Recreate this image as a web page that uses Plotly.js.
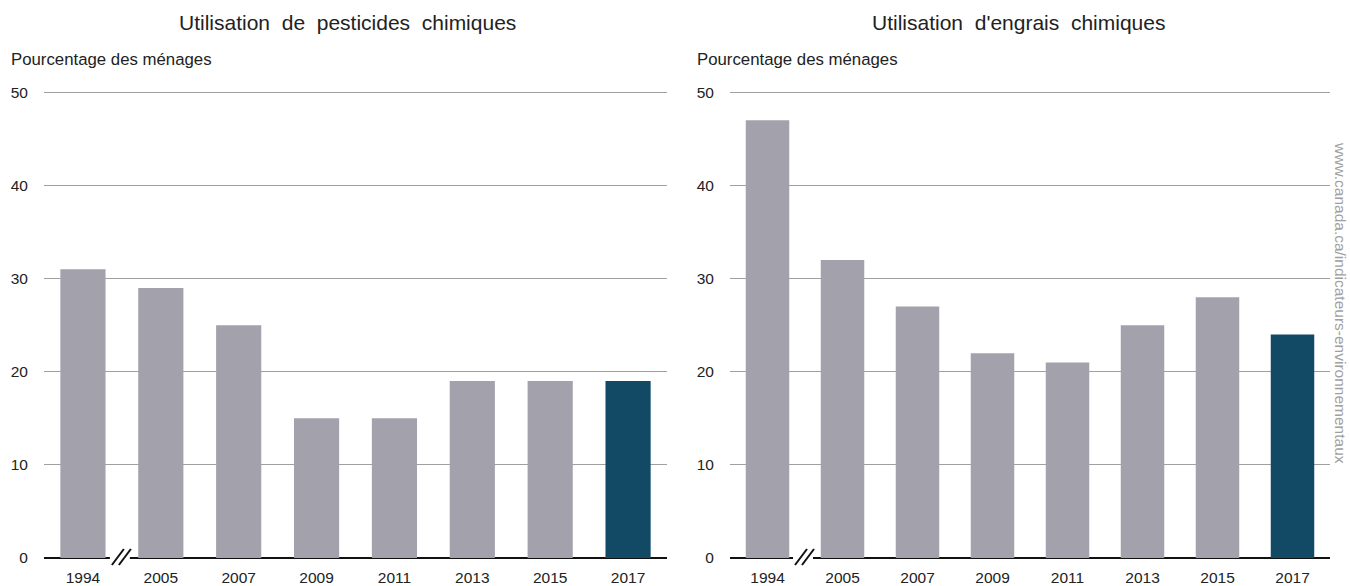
<!DOCTYPE html>
<html>
<head>
<meta charset="utf-8">
<script src="https://cdn.plot.ly/plotly-3.0.1.min.js"></script>
<style>html,body{margin:0;padding:0;background:#fff;}#chart{width:1350px;height:586px;}</style>
</head>
<body>
<div id="chart"></div>
<script>
const years = ["1994", "2005", "2007", "2009", "2011", "2013", "2015", "2017"];
const pesticides = [31, 29, 25, 15, 15, 19, 19, 19];
const engrais = [47, 32, 27, 22, 21, 25, 28, 24];
const leftTitle = "Utilisation de pesticides chimiques";
const rightTitle = "Utilisation d'engrais chimiques";
const yLabel = "Pourcentage des ménages";
const source = "www.canada.ca/indicateurs-environnementaux";

const grey = "#a3a1ab";
const teal = "#124a66";
const colors = years.map((y, i) => i === years.length - 1 ? teal : grey);

const W = 1350, H = 586;
const plotTop = 91, plotBottom = 558;
const Lpx = [44, 667];
const Rpx = [730, 1330];
const L = [Lpx[0] / W, Lpx[1] / W];
const R = [Rpx[0] / W, Rpx[1] / W];
const py = p => (plotBottom - p) / (plotBottom - plotTop);
const fontFam = "Liberation Sans, Arial, sans-serif";
const wide = s => s.split(" ").join("\u00a0 ");

const traces = [
  {type: "bar", x: years, y: pesticides, xaxis: "x", yaxis: "y", marker: {color: colors}, width: 0.58, hoverinfo: "x+y"},
  {type: "bar", x: years, y: engrais, xaxis: "x2", yaxis: "y2", marker: {color: colors}, width: 0.58, hoverinfo: "x+y"}
];

const xCommon = {type: "category", range: [-0.5, 7.5], showgrid: false, zeroline: false, showline: false,
  ticks: "outside", ticklen: 5, tickcolor: "rgba(0,0,0,0)", tickfont: {size: 15.5, color: "#222"}, fixedrange: true};
const yCommon = {range: [0, 50.15], tickvals: [0, 10, 20, 30, 40, 50], showgrid: true, gridcolor: "#a0a0a0", gridwidth: 1,
  zeroline: true, zerolinecolor: "#111", zerolinewidth: 2, showline: false,
  ticks: "outside", ticklen: 12, tickcolor: "rgba(0,0,0,0)", tickfont: {size: 15.5, color: "#222"}, fixedrange: true};

function breakShapes(xd, px) {
  const width = px[1] - px[0];
  const c = width / 8; // boundary between first and second category, in px from domain start
  const f = d => (c + d) / width;
  return [
    {type: "rect", xref: xd, yref: "paper", x0: f(-12), x1: f(8), y0: py(562), y1: py(553), fillcolor: "#fff", line: {width: 0}, layer: "above"},
    {type: "line", xref: xd, yref: "paper", x0: f(-10), x1: f(2), y0: py(565), y1: py(549), line: {color: "#111", width: 2}, layer: "above"},
    {type: "line", xref: xd, yref: "paper", x0: f(-3), x1: f(9), y0: py(565), y1: py(549), line: {color: "#111", width: 2}, layer: "above"}
  ];
}

const layout = {
  width: W, height: H,
  margin: {l: 0, r: 0, t: plotTop, b: H - plotBottom, pad: 0},
  paper_bgcolor: "#fff", plot_bgcolor: "#fff",
  showlegend: false,
  font: {family: fontFam, color: "#222"},
  xaxis: Object.assign({}, xCommon, {domain: L, anchor: "y"}),
  yaxis: Object.assign({}, yCommon, {domain: [0, 1], anchor: "x"}),
  xaxis2: Object.assign({}, xCommon, {domain: R, anchor: "y2"}),
  yaxis2: Object.assign({}, yCommon, {domain: [0, 1], anchor: "x2"}),
  shapes: breakShapes("x domain", Lpx).concat(breakShapes("x2 domain", Rpx)),
  annotations: [
    {text: wide(leftTitle), xref: "paper", yref: "paper", x: 347 / W, y: py(22), xanchor: "center", yanchor: "middle", showarrow: false, font: {size: 21, color: "#222"}},
    {text: wide(rightTitle), xref: "paper", yref: "paper", x: 1018 / W, y: py(22), xanchor: "center", yanchor: "middle", showarrow: false, font: {size: 21, color: "#222"}},
    {text: yLabel, xref: "paper", yref: "paper", x: 9 / W, y: py(60), xanchor: "left", yanchor: "middle", showarrow: false, font: {size: 16.8, color: "#222"}},
    {text: yLabel, xref: "paper", yref: "paper", x: 695 / W, y: py(60), xanchor: "left", yanchor: "middle", showarrow: false, font: {size: 16.8, color: "#222"}},
    {text: source, xref: "paper", yref: "paper", x: 1341 / W, y: py(303), xanchor: "center", yanchor: "middle", textangle: 90, showarrow: false, font: {size: 15.5, color: "#a0a0a0"}}
  ]
};

Plotly.newPlot("chart", traces, layout, {displayModeBar: false, staticPlot: true});
</script>
</body>
</html>
